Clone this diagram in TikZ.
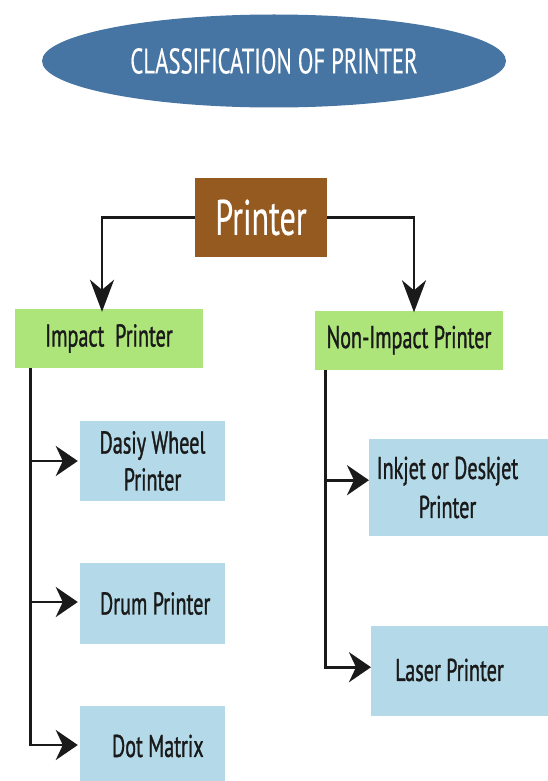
\documentclass[tikz,border=0pt]{standalone}
\usepackage{fontspec}
\usetikzlibrary{arrows.meta,shapes.geometric}
\newfontfamily\nf{PT Sans}[FakeStretch=0.64,FakeBold=0.3]
\newfontfamily\nfb{PT Sans}[FakeStretch=0.64,FakeBold=1]
\definecolor{ellblue}{HTML}{4775A3}
\definecolor{brownbox}{HTML}{955A1F}
\definecolor{greenbox}{HTML}{AEE57B}
\definecolor{bluebox}{HTML}{B4D9E8}
\definecolor{ink}{HTML}{1A1A1A}
\tikzset{
  conn/.style={line width=2.8pt, draw=ink},
  harr/.style={conn, -{Stealth[length=22pt,width=30pt,inset=7pt]}},
  varr/.style={conn, -{Stealth[length=32pt,width=24pt,inset=10pt]}},
  greenrect/.style={fill=greenbox, minimum width=188pt, minimum height=59pt, inner sep=0pt, text=ink, font=\nfb\fontsize{31.5}{37}\selectfont},
  bluerect/.style={fill=bluebox, inner sep=0pt, text=ink, align=center, font=\nfb\fontsize{31.5}{37}\selectfont},
  lbl/.style={inner sep=0pt, text=ink, align=center, font=\nfb\fontsize{31.5}{39}\selectfont},
}
\begin{document}
\begin{tikzpicture}[x=1pt,y=-1pt]
\useasboundingbox (0,0) rectangle (547,781);
\node[ellipse, fill=ellblue, minimum width=464pt, minimum height=93pt, inner sep=0pt, text=white, font=\nf\fontsize{35.5}{40}\selectfont] (title) at (274,61) {CLASSIFICATION OF PRINTER};
\node[fill=brownbox, minimum width=132pt, minimum height=79pt, inner sep=0pt, text=white, font=\nf\fontsize{50}{54}\selectfont] (printer) at (261,217.5) {Printer};
\node[greenrect] (impact) at (109,338.5) {Impact\ \ Printer};
\node[greenrect] (nonimpact) at (409,340) {Non-Impact Printer};
\node[bluerect, minimum width=145pt, minimum height=80pt] (dasiy) at (152.5,461) {Dasiy Wheel\\Printer};
\node[bluerect, minimum width=145pt, minimum height=81pt] (drum) at (152.5,603.5) {\ Drum Printer};
\node[bluerect, minimum width=145pt, minimum height=80pt] (dot) at (152.5,746) {\ \ Dot Matrix};
\node[bluerect, minimum width=190pt, minimum height=97pt, anchor=north west] (inkjet) at (369,439) {};
\node[lbl] (inkjett) at (447.5,487.5) {Inkjet or Deskjet\\Printer};
\node[bluerect, minimum width=190pt, minimum height=90pt, anchor=north west] (laser) at (371,626) {};
\node[lbl] (lasert) at (449.5,670) {Laser Printer};
% top connectors
\draw[varr] (printer.west) -| ([xshift=-7pt,yshift=-3pt]impact.north);
\draw[varr] (printer.east) -| ([xshift=5pt,yshift=-2pt]nonimpact.north);
% left trunk
\coordinate (ltop) at ([xshift=16pt]impact.south west);
\coordinate (rtop) at ([xshift=11pt]nonimpact.south west);
\coordinate (dasj) at (dasiy.west);
\coordinate (drumj) at ([yshift=1.5pt]drum.west);
\coordinate (dotj) at ([yshift=1pt]dot.west);
\draw[harr, shorten >=2pt] (ltop) |- (dotj);
\draw[harr, shorten >=2pt] (ltop |- dasj) -- (dasj);
\draw[harr, shorten >=2pt] (ltop |- drumj) -- (drumj);
% right trunk
\coordinate (inkj) at ([yshift=7.5pt]inkjet.west);
\coordinate (lasj) at ([yshift=4pt]laser.west);
\draw[harr, shorten >=0pt] (rtop) |- (lasj);
\draw[harr, shorten >=0pt] (rtop |- inkj) -- (inkj);
\end{tikzpicture}
\end{document}
